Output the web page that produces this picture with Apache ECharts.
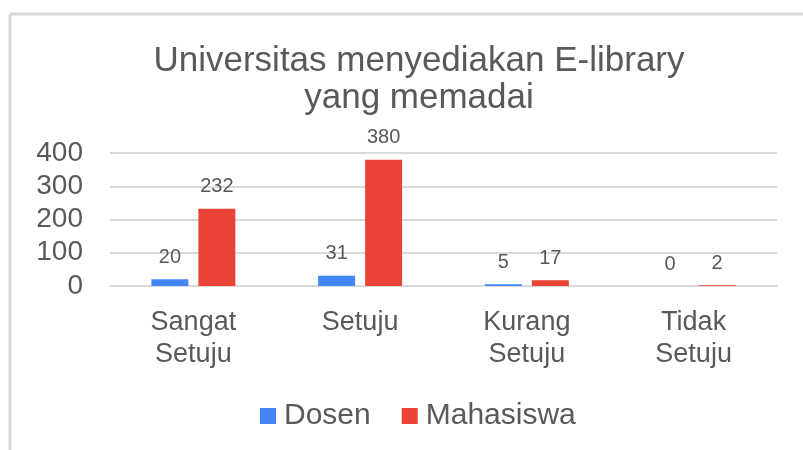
<!DOCTYPE html>
<html>
<head>
<meta charset="utf-8">
<script src="https://cdn.jsdelivr.net/npm/echarts@6/dist/echarts.min.js"></script>
<style>
  html, body { margin: 0; padding: 0; background: #fff; }
  #main { width: 803px; height: 450px; }
</style>
</head>
<body>
<div id="main"></div>
<script>
var categories = ['Sangat\nSetuju', 'Setuju', 'Kurang\nSetuju', 'Tidak\nSetuju'];
var dosen = [20, 31, 5, 0];
var mahasiswa = [232, 380, 17, 2];
var yTicks = [0, 100, 200, 300, 400];

var textColor = '#595959';
var fontFamily = '"Liberation Sans", Arial, sans-serif';

var chart = echarts.init(document.getElementById('main'));
chart.setOption({
    animation: false,
    textStyle: { fontFamily: fontFamily },
    graphic: [
        { type: 'line', shape: { x1: 10, y1: 14, x2: 803, y2: 14 }, style: { stroke: '#d9d9d9', lineWidth: 3 } },
        { type: 'line', shape: { x1: 10, y1: 14, x2: 10, y2: 450 }, style: { stroke: '#d9d9d9', lineWidth: 3 } }
    ],
    title: {
        text: 'Universitas menyediakan E-library\nyang memadai',
        left: 414,
        textAlign: 'center',
        top: 38,
        textStyle: { fontSize: 35, fontWeight: 'normal', color: textColor, lineHeight: 37, fontFamily: fontFamily }
    },
    legend: {
        data: ['Dosen', 'Mahasiswa'],
        top: 396,
        left: 255,
        icon: 'rect',
        itemWidth: 16,
        itemHeight: 16,
        itemGap: 31,
        textStyle: { fontSize: 30, color: textColor, padding: [0, 0, 0, 3] }
    },
    grid: { left: 110, right: 26, top: 153, bottom: 164 },
    xAxis: {
        type: 'category',
        data: categories,
        axisLine: { lineStyle: { color: '#d9d9d9', width: 2 } },
        axisTick: { show: false },
        axisLabel: { fontSize: 27, color: textColor, lineHeight: 32, margin: 21 }
    },
    yAxis: {
        type: 'value',
        min: yTicks[0],
        max: yTicks[yTicks.length - 1],
        interval: 100,
        axisLine: { show: false },
        axisTick: { show: false },
        splitLine: { lineStyle: { color: '#d9d9d9', width: 2 } },
        axisLabel: { fontSize: 28, color: textColor, margin: 27 }
    },
    series: [
        {
            name: 'Dosen',
            type: 'bar',
            data: dosen,
            barWidth: 37,
            barGap: '27%',
            itemStyle: { color: '#4285f4' },
            label: { show: true, position: 'top', distance: 12, fontSize: 20, color: textColor }
        },
        {
            name: 'Mahasiswa',
            type: 'bar',
            data: mahasiswa,
            barWidth: 37,
            barGap: '27%',
            itemStyle: { color: '#ea4335' },
            label: { show: true, position: 'top', distance: 12, fontSize: 20, color: textColor }
        }
    ]
});
</script>
</body>
</html>
